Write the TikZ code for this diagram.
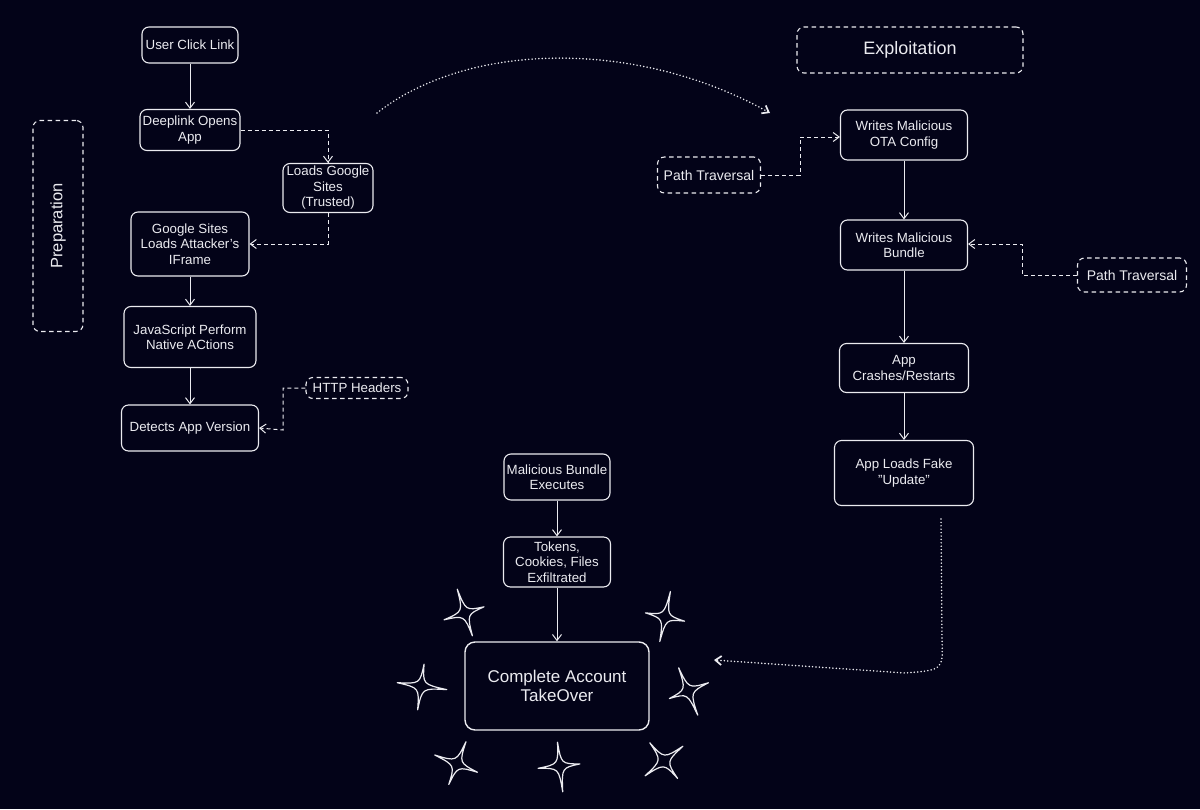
\documentclass[tikz,border=0pt]{standalone}
\usepackage{fontspec}
\setmainfont{Liberation Sans}
\usetikzlibrary{arrows.meta}
\definecolor{bg}{RGB}{3,3,24}
\definecolor{fg}{RGB}{235,235,240}
% x, y, rotation, arm up, right, down, left
\newcommand\mysparkle[7]{\draw[spark, shift={(#1,#2)}, rotate=#3] (0,-#4) .. controls (1.5,-2) .. (#5,0) .. controls (1.5,2) .. (0,#6) .. controls (-1.5,2) .. (-#7,0) .. controls (-1.5,-2) .. cycle;}
\begin{document}
\begin{tikzpicture}[x=1pt,y=-1pt,
 box/.style={draw=fg, line width=1.1pt, rounded corners=7pt, fill=bg, text=fg, align=center, inner sep=0pt, font=\fontsize{13.3}{15.5}\selectfont},
 dbox/.style={box, dash pattern=on 4.5pt off 3.5pt},
 arr/.style={draw=fg, line width=1pt, -{Straight Barb[length=6pt,width=9pt]}},
 darr/.style={arr, dash pattern=on 4pt off 3pt},
 dotarr/.style={draw=fg, line width=1.7pt, line cap=round, dash pattern=on 0pt off 3.4pt, -{Straight Barb[length=6pt,width=9pt]}},
 spark/.style={draw=fg, line width=1.2pt, line join=round}
]
\fill[bg] (0,0) rectangle (1200,809);
\useasboundingbox (0,0) rectangle (1200,809);

% Preparation column
\node[box, minimum width=96, minimum height=36] (click) at (190,45) {User Click Link};
\node[box, minimum width=100, minimum height=41] (deep) at (190,130) {Deeplink Opens\\App};
\node[box, minimum width=90, minimum height=49] (loads) at (328,188) {Loads Google\\Sites\\(Trusted)};
\node[box, minimum width=118, minimum height=64] (gsites) at (190,244) {Google Sites\\Loads Attacker's\\IFrame};
\node[box, minimum width=132, minimum height=61] (js) at (190,337) {JavaScript Perform\\Native ACtions};
\node[box, minimum width=137, minimum height=46] (detect) at (190,428) {Detects App Version};
\node[dbox, minimum width=102, minimum height=21] (http) at (357,388) {HTTP Headers};
\node[dbox, minimum width=50, minimum height=211] (prep) at (58,226) {};
\node[text=fg, rotate=90, font=\fontsize{16.5}{18}\selectfont] (preplabel) at (prep.center) {Preparation};

\draw[arr] (click) -- (deep);
\draw[darr] (deep.east) -- (328,130) -- (loads.north);
\draw[darr] (loads.south) -- (328,244) -- (gsites.east);
\draw[arr] (gsites) -- (js);
\draw[arr] (js) -- (detect);
\draw[darr] (http.west) -- (283,388) -- (283,430) -- (detect.east);

% Exploitation column
\node[dbox, minimum width=226, minimum height=46, font=\fontsize{18}{20}\selectfont] (expl) at (910,50) {Exploitation};
\node[box, minimum width=127, minimum height=50] (ota) at (904,135) {Writes Malicious\\OTA Config};
\node[dbox, minimum width=103, minimum height=36, font=\fontsize{14}{16}\selectfont] (pt1) at (709,175) {Path Traversal};
\node[box, minimum width=127, minimum height=50] (bundle) at (904,245) {Writes Malicious\\Bundle};
\node[dbox, minimum width=109, minimum height=34, font=\fontsize{14}{16}\selectfont] (pt2) at (1132,275) {Path Traversal};
\node[box, minimum width=129, minimum height=49] (crash) at (904,368) {App\\Crashes/Restarts};
\node[box, minimum width=139, minimum height=65] (fake) at (904,473) {App Loads Fake\\"Update"};

\draw[arr] (ota) -- (bundle);
\draw[arr] (bundle) -- (crash);
\draw[arr] (crash) -- (fake);
\draw[darr] (pt1.east) -- (800,175) -- (800,137) -- (ota.west |- 0,137);
\draw[darr] (pt2.west) -- (1022,275) -- (1022,244) -- (bundle.east |- 0,244);

% Outcome
\node[box, minimum width=106, minimum height=46] (exec) at (557,477) {Malicious Bundle\\Executes};
\node[box, minimum width=107, minimum height=50] (tokens) at (557,562) {Tokens,\\Cookies, Files\\Exfiltrated};
\node[box, minimum width=184, minimum height=88, rounded corners=10pt, line width=1.4pt, font=\fontsize{17}{19}\selectfont] (cato) at (557,686) {Complete Account\\TakeOver};
\draw[arr] (exec) -- (tokens);
\draw[arr] (tokens) -- (cato);

% dotted flows
\coordinate (arcstart) at (377,113);
\coordinate (arcend) at (770,113);
\draw[dotarr] (arcstart) .. controls (470,40) and (640,40) .. (arcend);
\coordinate (fakeout) at (941,519);
\coordinate (catoin) at (714,660);
\draw[dotarr] (fakeout) -- (942,640) .. controls (943,670) .. (905,673) -- (catoin);

% sparkles
\mysparkle{465}{613}{18}{25}{20}{24}{22}
\mysparkle{665}{617}{-12}{26}{20}{25}{20}
\mysparkle{421}{686}{-8}{22}{26}{24}{24}
\mysparkle{688}{691}{22}{25}{22}{26}{20}
\mysparkle{457}{764}{-22}{24}{22}{22}{24}
\mysparkle{560}{766}{6}{24}{20}{26}{22}
\mysparkle{664}{761}{38}{23}{24}{22}{24}
\end{tikzpicture}
\end{document}
